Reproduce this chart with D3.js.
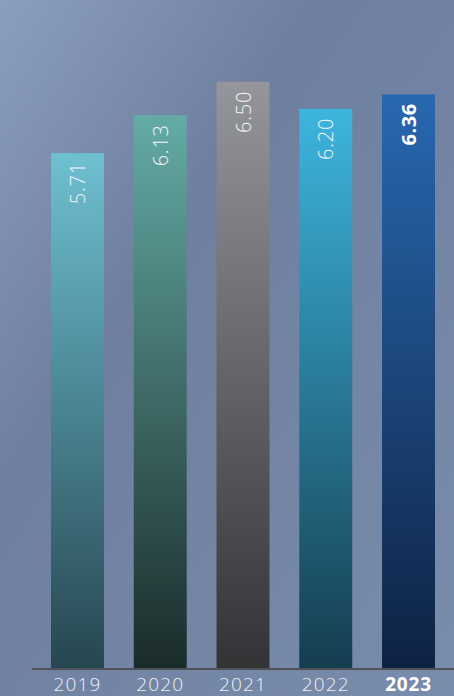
<!DOCTYPE html>
<html>
<head>
<meta charset="utf-8">
<script src="https://cdn.jsdelivr.net/npm/d3@7"></script>
<style>
  html, body { margin: 0; padding: 0; overflow: hidden; }
  body { width: 454px; height: 696px; }
  .year { font-family: "Open Sans", sans-serif; font-weight: 300; font-size: 19px; letter-spacing: 1.2px; fill: #eef1f6; }
  .year.hi { font-weight: 700; fill: #ffffff; letter-spacing: 0.8px; }
  .val { font-family: "Open Sans", sans-serif; font-weight: 300; font-size: 20px; letter-spacing: 0.8px; fill: #f4f6fa; }
  .val.hi { font-weight: 700; fill: #ffffff; letter-spacing: 0.5px; }
</style>
</head>
<body>
<script>
const years = ["2019", "2020", "2021", "2022", "2023"];
const values = [5.71, 6.13, 6.50, 6.20, 6.36];
const topColors = ["#6ec0d2", "#64aba5", "#95969b", "#3db5de", "#2868b0"];
const bottomColors = ["#264650", "#1a2b2a", "#333336", "#153d4f", "#0e2243"];
const highlight = "2023";

const width = 454, height = 696;
const margin = { left: 32, right: 0, top: 0, bottom: 27 };
const baseline = height - margin.bottom;

const svg = d3.select("body").append("svg")
    .attr("width", width)
    .attr("height", height);

const defs = svg.append("defs");

// background
const bg = defs.append("linearGradient")
    .attr("id", "bg")
    .attr("x1", "0").attr("y1", "0")
    .attr("x2", "1").attr("y2", "1");
bg.append("stop").attr("offset", "0").attr("stop-color", "#8c9ebd");
bg.append("stop").attr("offset", "0.35").attr("stop-color", "#6e7f9f");
bg.append("stop").attr("offset", "1").attr("stop-color", "#7a8cac");

svg.append("rect")
    .attr("width", width).attr("height", height)
    .attr("fill", "url(#bg)");

// bar gradients
years.forEach((y, i) => {
    const g = defs.append("linearGradient")
        .attr("id", "g" + y)
        .attr("x1", "0").attr("y1", "0")
        .attr("x2", "0").attr("y2", "1");
    g.append("stop").attr("offset", "0").attr("stop-color", topColors[i]);
    g.append("stop").attr("offset", "1").attr("stop-color", bottomColors[i]);
});

const x = d3.scaleBand()
    .domain(years)
    .range([51, 435])
    .paddingInner(0.36)
    .paddingOuter(0);

const y = d3.scaleLinear()
    .domain([0, 7.4])
    .range([baseline, baseline - 7.4 * 90.35]);

const data = years.map((yr, i) => ({ year: yr, value: values[i] }));

svg.selectAll(".bar")
    .data(data)
    .enter().append("rect")
    .attr("class", "bar")
    .attr("x", d => x(d.year))
    .attr("y", d => y(d.value))
    .attr("width", x.bandwidth())
    .attr("height", d => baseline - y(d.value))
    .attr("fill", d => "url(#g" + d.year + ")");

// value labels, rotated
svg.selectAll(".val")
    .data(data)
    .enter().append("text")
    .attr("class", d => "val" + (d.year === highlight ? " hi" : ""))
    .attr("transform", d => "translate(" + (x(d.year) + x.bandwidth() / 2 + 7.5) + "," + (y(d.value) + 9) + ") rotate(-90)")
    .attr("text-anchor", "end")
    .text(d => d.value.toFixed(2));

// axis
const axis = svg.append("g")
    .attr("transform", "translate(0," + baseline + ")")
    .call(d3.axisBottom(x).tickSize(0).tickPadding(0));
axis.select(".domain")
    .attr("d", "M" + margin.left + ",0H" + width)
    .attr("stroke", "#4f5357")
    .attr("stroke-width", 2);
axis.selectAll(".tick text")
    .attr("class", d => "year" + (d === highlight ? " hi" : ""))
    .attr("y", 22)
    .attr("dy", null)
    .attr("fill", null)
    .attr("font-size", null)
    .attr("font-family", null);
</script>
</body>
</html>
